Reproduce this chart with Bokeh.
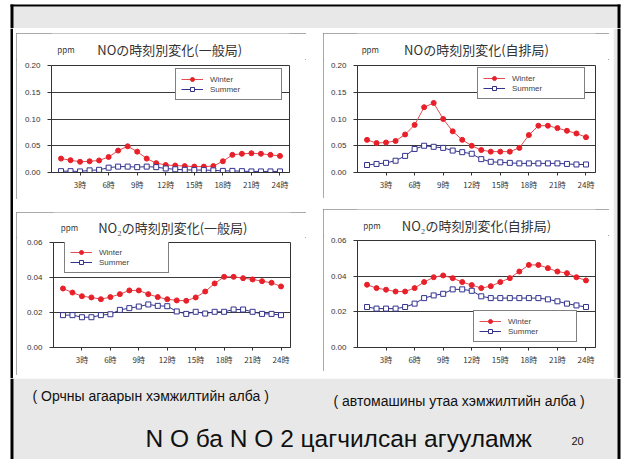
from bokeh.plotting import figure
from bokeh.layouts import column, row
from bokeh.models import (Range1d, FixedTicker, Legend, LegendItem, Spacer, NumeralTickFormatter)
from bokeh.embed import file_html
from bokeh.resources import INLINE
from bokeh.core.properties import value

# ---------------- data ----------------
hours = list(range(1, 25))
hour_ticks = [3, 6, 9, 12, 15, 18, 21, 24]
hour_labels = ["3時", "6時", "9時", "12時", "15時", "18時", "21時", "24時"]

no_ticks = [0.0, 0.05, 0.10, 0.15, 0.20]
no2_ticks = [0.0, 0.02, 0.04, 0.06]

# NO, general stations (一般局)
no_gen_winter = [0.026, 0.023, 0.020, 0.021, 0.0225, 0.029, 0.041, 0.049, 0.039, 0.026, 0.0175, 0.014,
                 0.013, 0.012, 0.011, 0.011, 0.012, 0.021, 0.033, 0.035, 0.036, 0.035, 0.033, 0.031]
no_gen_summer = [0.0025, 0.0025, 0.002, 0.004, 0.005, 0.009, 0.011, 0.011, 0.010, 0.011, 0.010, 0.0075,
                 0.006, 0.005, 0.0045, 0.0045, 0.004, 0.003, 0.003, 0.0025, 0.002, 0.002, 0.002, 0.002]
# NO, roadside stations (自排局)
no_road_winter = [0.061, 0.055, 0.056, 0.059, 0.071, 0.089, 0.122, 0.130, 0.100, 0.077, 0.061, 0.050,
                  0.042, 0.039, 0.039, 0.039, 0.046, 0.070, 0.0875, 0.0875, 0.083, 0.078, 0.073, 0.066]
no_road_summer = [0.014, 0.016, 0.018, 0.022, 0.031, 0.044, 0.050, 0.048, 0.046, 0.041, 0.038, 0.035,
                  0.025, 0.020, 0.019, 0.018, 0.017, 0.017, 0.017, 0.017, 0.017, 0.016, 0.015, 0.015]
# NO2, general stations
no2_gen_winter = [0.0337, 0.0314, 0.0293, 0.0286, 0.0276, 0.0288, 0.0305, 0.0326, 0.0326, 0.0305, 0.0288, 0.0276,
                  0.0269, 0.0267, 0.0286, 0.0320, 0.0366, 0.0404, 0.0404, 0.0396, 0.0389, 0.0379, 0.0370, 0.0349]
no2_gen_summer = [0.0185, 0.0185, 0.0173, 0.0173, 0.0185, 0.0190, 0.0215, 0.0225, 0.0234, 0.0246, 0.0238, 0.0236,
                  0.0206, 0.0192, 0.0204, 0.0194, 0.0204, 0.0204, 0.0217, 0.0217, 0.0204, 0.0192, 0.0192, 0.0185]
# NO2, roadside stations
no2_road_winter = [0.0352, 0.0333, 0.0324, 0.0314, 0.0314, 0.0333, 0.0367, 0.0394, 0.0404, 0.0389, 0.0367, 0.0350,
                   0.0333, 0.0344, 0.0367, 0.0389, 0.0426, 0.0463, 0.0463, 0.0445, 0.0426, 0.0417, 0.0394, 0.0376]
no2_road_summer = [0.0227, 0.0218, 0.0218, 0.0218, 0.0227, 0.0246, 0.0277, 0.0292, 0.0301, 0.0326, 0.0326, 0.0318,
                   0.0287, 0.0277, 0.0277, 0.0277, 0.0277, 0.0277, 0.0277, 0.0270, 0.0259, 0.0246, 0.0236, 0.0227]

titles = ["NOの時刻別変化(一般局)", "NOの時刻別変化(自排局)",
          "NO₂の時刻別変化(一般局)", "NO₂の時刻別変化(自排局)"]
unit_label = "ppm"
series_names = ["Winter", "Summer"]
captions = ["( Орчны агаарын хэмжилтийн алба )", "( автомашины утаа хэмжилтийн алба )"]
slide_title = "N O ба N O 2 цагчилсан агууламж"
page_number = "20"

# ---------------- style ----------------
GREY = "#e8e8e8"
RED = "#e8202a"
RED_LINE = "#e44a4f"
NAVY = "#33338f"
SANS = "Liberation Sans"
JP = "Noto Sans CJK JP"
PANEL_OUTLINE = {"outline": "1px solid #8c8c8c", "outline-offset": "-1px"}


def strip(w, h):
    f = figure(width=w, height=h, x_range=Range1d(0, w), y_range=Range1d(h, 0),
               output_backend="svg", toolbar_location=None, x_axis_type=None, y_axis_type=None,
               min_border=0, background_fill_color="white", border_fill_color="white",
               outline_line_color=None)
    f.grid.visible = False
    return f


def panel(title, ymax, yticks, winter, summer, w, strip_h, h, bl, br, bt, bb,
          leg_loc, leg_w, ppm_pos, title_pos):
    head = strip(w, strip_h)
    head.text(x=[ppm_pos[0]], y=[ppm_pos[1]], text=[unit_label], text_font=value(JP),
              text_font_size="8px", text_color="#333333", text_baseline="middle", text_align="left")
    head.text(x=[title_pos[0]], y=[title_pos[1]], text=[title], text_font=value(JP),
              text_font_size="13px", text_color="#333333", text_baseline="middle", text_align="center")

    p = figure(width=w, height=h, x_range=Range1d(0, 25), y_range=Range1d(0, ymax),
               output_backend="svg", toolbar_location=None,
               min_border_left=bl, min_border_right=br, min_border_top=bt, min_border_bottom=bb,
               background_fill_color="white", border_fill_color="white",
               outline_line_color="#333333", outline_line_width=1)
    p.xgrid.grid_line_color = None
    p.ygrid.grid_line_color = "#3a3a3a"
    p.ygrid.grid_line_width = 1

    xa = p.xaxis[0]
    xa.ticker = FixedTicker(ticks=hour_ticks)
    xa.major_label_overrides = {t: s for t, s in zip(hour_ticks, hour_labels)}
    xa.minor_tick_line_color = None
    xa.major_tick_in = 0
    xa.major_tick_out = 3
    xa.major_label_standoff = 3
    xa.axis_line_color = "#333333"
    xa.major_tick_line_color = "#333333"
    xa.major_label_text_font = JP
    xa.major_label_text_font_size = "8px"
    xa.major_label_text_color = "#333333"

    ya = p.yaxis[0]
    ya.ticker = FixedTicker(ticks=yticks)
    ya.formatter = NumeralTickFormatter(format="0.00")
    ya.minor_tick_line_color = None
    ya.major_tick_in = 0
    ya.major_tick_out = 4
    ya.major_label_standoff = 7
    ya.axis_line_color = "#333333"
    ya.major_tick_line_color = "#333333"
    ya.major_label_text_font = SANS
    ya.major_label_text_font_size = "8px"
    ya.major_label_text_color = "#333333"

    wl = p.line(hours, winter, line_color=RED_LINE, line_width=1)
    ws = p.scatter(hours, winter, marker="circle", size=5, fill_color=RED, line_color=RED)
    sl = p.line(hours, summer, line_color=NAVY, line_width=1)
    ss = p.scatter(hours, summer, marker="square", size=5, fill_color="white", line_color=NAVY)

    leg = Legend(items=[LegendItem(label=series_names[0], renderers=[wl, ws]),
                        LegendItem(label=series_names[1], renderers=[sl, ss])],
                 location=leg_loc, orientation="vertical",
                 border_line_color="black", border_line_width=1,
                 background_fill_color="white", background_fill_alpha=1.0,
                 label_text_font=SANS, label_text_font_size="8px",
                 glyph_width=22, glyph_height=10, label_height=10,
                 label_standoff=7, label_width=leg_w - 39,
                 padding=5, spacing=0, margin=0)
    p.add_layout(leg)
    return column(head, p, spacing=0, styles=PANEL_OUTLINE)


p1 = panel(titles[0], 0.20, no_ticks, no_gen_winter, no_gen_summer,
           290, 26, 140, 35, 17, 6, 27, (124, 72), 105, (7, 16), (144, 16))
p2 = panel(titles[1], 0.20, no_ticks, no_road_winter, no_road_summer,
           286, 26, 139, 34, 14, 6, 26, (120, 73), 106, (5, 16), (143, 16))
p3 = panel(titles[2], 0.06, no2_ticks, no2_gen_winter, no2_gen_summer,
           290, 25, 138, 37, 16, 5, 28, (11, 74), 103, (9, 15), (146, 15))
p4 = panel(titles[3], 0.06, no2_ticks, no2_road_winter, no2_road_summer,
           286, 26, 136, 34, 14, 5, 24, (116, 5), 102, (7, 16), (143, 16))


def chrome(w, h, x0, y0):
    f = figure(width=w, height=h, x_range=Range1d(x0, x0 + w), y_range=Range1d(y0 + h, y0),
               output_backend="svg", toolbar_location=None, x_axis_type=None, y_axis_type=None,
               min_border=0, background_fill_color="white", border_fill_color="white",
               outline_line_color=None)
    f.grid.visible = False
    return f


# top band (y 0..28)
top = chrome(621, 28, 0, 0)
top.quad(left=[13], right=[617], top=[6], bottom=[28], fill_color=GREY, line_color=None)
top.quad(left=[10, 10, 617], right=[620, 13, 620], top=[4, 4, 4], bottom=[6, 28, 28],
         fill_color="black", line_color=None)

# side chrome for the middle band (y 28..378)
left_side = chrome(13, 350, 0, 28)
left_side.quad(left=[10], right=[13], top=[28], bottom=[378], fill_color="black", line_color=None)
right_side = chrome(8, 350, 613, 28)
right_side.quad(left=[613], right=[617], top=[28], bottom=[378], fill_color=GREY, line_color=None)
right_side.quad(left=[617], right=[620], top=[28], bottom=[378], fill_color="black", line_color=None)

# bottom band (y 378..459)
bottom = chrome(621, 81, 0, 378)
bottom.quad(left=[13], right=[617], top=[378], bottom=[459], fill_color=GREY, line_color=None)
bottom.quad(left=[10, 617], right=[13, 620], top=[378, 378], bottom=[459, 459],
            fill_color="black", line_color=None)
bottom.text(x=[32, 333], y=[395, 400], text=captions, text_font=value(SANS),
            text_font_size="14px", text_color="#111111", text_baseline="middle", text_align="left")
bottom.text(x=[145], y=[438], text=[slide_title], text_font=value(SANS),
            text_font_size="24.5px", text_color="#111111", text_baseline="middle", text_align="left")
bottom.text(x=[571], y=[440], text=[page_number], text_font=value(SANS),
            text_font_size="11px", text_color="#111111", text_baseline="middle", text_align="left")

colL = column(Spacer(width=290, height=5), p1, Spacer(width=290, height=13), p3,
              Spacer(width=290, height=3), spacing=0)
colR = column(Spacer(width=286, height=5), p2, Spacer(width=286, height=11), p4,
              Spacer(width=286, height=7), spacing=0)
middle = row(left_side, Spacer(width=3, height=350), colL, Spacer(width=17, height=350), colR,
             Spacer(width=4, height=350), right_side, spacing=0)
root = column(top, middle, bottom, spacing=0)

open("out.html", "w").write(file_html(root, INLINE))
